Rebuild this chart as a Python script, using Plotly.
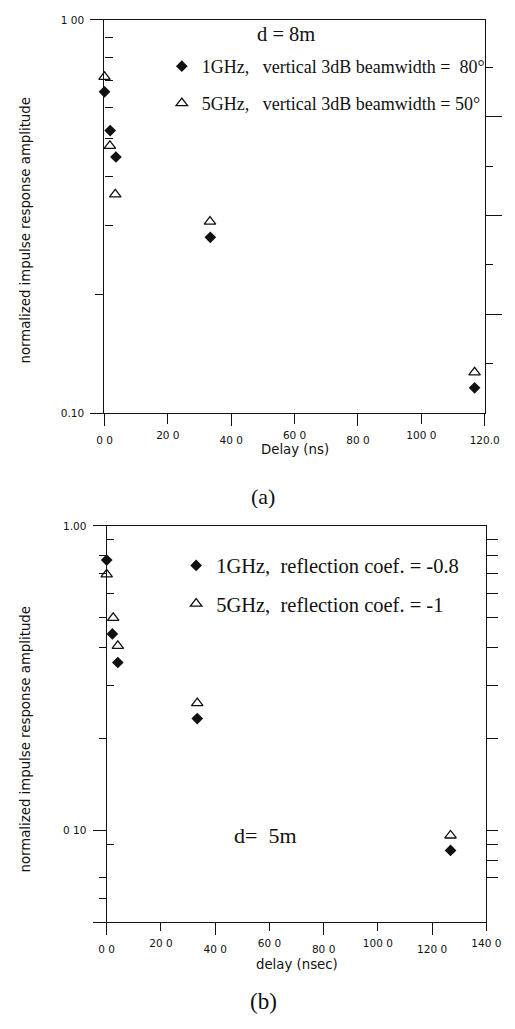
import math
import plotly.graph_objects as go

W, H = 515, 1029

# ---------------- data ----------------
# (a) d = 8 m
a_delay_1g = [0.0, 1.8, 3.6, 33.4, 116.8]
a_amp_1g = [0.656, 0.523, 0.448, 0.280, 0.116]
a_delay_5g = [0.0, 1.7, 3.4, 33.3, 116.8]
a_amp_5g = [0.716, 0.478, 0.360, 0.307, 0.127]

# (b) d = 5 m
b_delay_1g = [0.0, 2.1, 4.1, 33.4, 126.8]
b_amp_1g = [0.772, 0.442, 0.356, 0.233, 0.086]
b_delay_5g = [0.0, 2.4, 4.1, 33.4, 126.8]
b_amp_5g = [0.693, 0.499, 0.404, 0.262, 0.0963]

NB = "\u00a0"
a_names = ["1GHz," + NB * 3 + "vertical 3dB beamwidth =" + NB * 2 + "80°",
           "5GHz," + NB * 3 + "vertical 3dB beamwidth = 50°"]
b_names = ["1GHz," + NB * 2 + "reflection coef. = -0.8",
           "5GHz," + NB * 2 + "reflection coef. = -1"]

# tick labels
a_xticks_hi = [20, 60, 100]
a_xlabels_hi = ["20 0", "60 0", "100 0"]
a_xticks_lo = [0, 40, 80, 120]
a_xlabels_lo = ["0 0", "40 0", "80 0", "120.0"]
a_yticks = [1.0, 0.1]
a_ylabels = ["1 00", "0.10"]

b_xticks_hi = [20, 60, 100, 140]
b_xlabels_hi = ["20 0", "60 0", "100 0", "140 0"]
b_xticks_lo = [0, 40, 80, 120]
b_xlabels_lo = ["0 0", "40 0", "80 0", "120 0"]
b_yticks = [1.0, 0.1, 0.05]
b_ylabels = ["1.00", "0 10", ""]

# ---------------- helpers ----------------
def px(x):
    return x / W


def py(y):
    return 1 - y / H


SANS = "DejaVu Sans"
SERIF = "Liberation Serif"
INK = "#111111"

diamond = dict(symbol="diamond", size=9, color=INK)
triangle = dict(symbol="triangle-up-open", size=10, color=INK, line=dict(width=1.3, color=INK))

fig = go.Figure()
fig.add_trace(go.Scatter(x=a_delay_1g, y=a_amp_1g, mode="markers", marker=diamond,
                         name=a_names[0], legendgroup="a1", xaxis="x", yaxis="y",
                         cliponaxis=False, legend="legend"))
fig.add_trace(go.Scatter(x=a_delay_5g, y=a_amp_5g, mode="markers", marker=triangle,
                         name=a_names[1], legendgroup="a2", xaxis="x", yaxis="y",
                         cliponaxis=False, legend="legend"))
fig.add_trace(go.Scatter(x=b_delay_1g, y=b_amp_1g, mode="markers", marker=diamond,
                         name=b_names[0], legendgroup="b1", xaxis="x2", yaxis="y4",
                         cliponaxis=False, legend="legend2"))
fig.add_trace(go.Scatter(x=b_delay_5g, y=b_amp_5g, mode="markers", marker=triangle,
                         name=b_names[1], legendgroup="b2", xaxis="x2", yaxis="y4",
                         cliponaxis=False, legend="legend2"))

# empty traces registering the overlay axes
for xa, ya in [("x3", "y"), ("x", "y2"), ("x", "y3"), ("x4", "y4"), ("x2", "y5"), ("x2", "y6")]:
    fig.add_trace(go.Scatter(x=[None], y=[None], xaxis=xa, yaxis=ya, showlegend=False,
                             hoverinfo="skip"))

tickfont = dict(family=SANS, size=10.5, color=INK)
base = dict(showgrid=False, zeroline=False, linecolor=INK, linewidth=1.3,
            tickcolor=INK, tickwidth=1.2, tickfont=tickfont)

a_dom_x = [px(101), px(499)]
a_dom_y = [py(412), py(14)]
b_dom_x = [px(103.3), px(500.7)]
b_dom_y = [py(927), py(526)]
b_yr = [math.log10(0.05), 0]

fig.update_layout(
    width=W, height=H, margin=dict(l=0, r=0, t=0, b=0),
    paper_bgcolor="white", plot_bgcolor="white",
    # ---- (a) ----
    xaxis=dict(base, domain=a_dom_x, range=[0, 120], anchor="y", showline=True, mirror=True,
               tickmode="array", tickvals=a_xticks_hi, ticktext=a_xlabels_hi,
               ticks="outside", ticklen=10, ticklabelstandoff=2,
               minor=dict(tickmode="array", tickvals=a_xticks_lo, ticks="outside",
                          ticklen=12, tickcolor=INK, tickwidth=1.2)),
    xaxis3=dict(base, overlaying="x", anchor="y", side="bottom", range=[0, 120],
                showline=False, tickmode="array", tickvals=a_xticks_lo,
                ticktext=a_xlabels_lo, ticks="", ticklabelstandoff=19),
    yaxis=dict(base, domain=a_dom_y, type="log", range=[-1, 0], anchor="x",
               showline=True, mirror=True, tickmode="array", tickvals=a_yticks,
               ticktext=a_ylabels, ticks="outside", ticklen=13, ticklabelstandoff=4,
               minor=dict(tickmode="array", tickvals=[0.9, 0.8, 0.7, 0.6, 0.5, 0.4, 0.3],
                          ticks="inside", ticklen=8, tickcolor=INK, tickwidth=1.2)),
    yaxis2=dict(base, overlaying="y", anchor="x", side="right", range=[0, 398 / 50],
                showline=False, showticklabels=False, tickmode="array",
                tickvals=[2, 4, 6], ticks="outside", ticklen=16,
                minor=dict(tickmode="array", tickvals=[1, 3, 5, 7], ticks="outside",
                           ticklen=7, tickcolor=INK, tickwidth=1.2)),
    yaxis3=dict(base, overlaying="y", anchor="x", side="left", type="log", range=[-1, 0],
                showline=False, showticklabels=False, tickmode="array", tickvals=[0.2],
                ticks="outside", ticklen=8),
    # ---- (b) ----
    xaxis2=dict(base, domain=b_dom_x, range=[0, 140], anchor="y4", showline=True, mirror=True,
                tickmode="array", tickvals=b_xticks_hi, ticktext=b_xlabels_hi,
                ticks="outside", ticklen=8, ticklabelstandoff=3,
                minor=dict(tickmode="array", tickvals=b_xticks_lo, ticks="outside",
                           ticklen=12, tickcolor=INK, tickwidth=1.2)),
    xaxis4=dict(base, overlaying="x2", anchor="y4", side="bottom", range=[0, 140],
                showline=False, tickmode="array", tickvals=b_xticks_lo,
                ticktext=b_xlabels_lo, ticks="", ticklabelstandoff=19),
    yaxis4=dict(base, domain=b_dom_y, type="log", range=b_yr, anchor="x2",
                showline=True, mirror=True, tickmode="array", tickvals=b_yticks,
                ticktext=b_ylabels, ticks="outside", ticklen=13, ticklabelstandoff=4,
                minor=dict(tickmode="array", tickvals=[0.9, 0.6, 0.3, 0.09],
                           ticks="inside", ticklen=7, tickcolor=INK, tickwidth=1.2)),
    yaxis5=dict(base, overlaying="y4", anchor="x2", side="right", type="log", range=b_yr,
                showline=False, showticklabels=False, tickmode="array",
                tickvals=[0.9, 0.8, 0.7, 0.6, 0.5, 0.4, 0.3, 0.2, 0.1, 0.09, 0.08, 0.07],
                ticks="outside", ticklen=11),
    yaxis6=dict(base, overlaying="y4", anchor="x2", side="left", type="log", range=b_yr,
                showline=False, showticklabels=False, tickmode="array",
                tickvals=[0.8, 0.7, 0.5, 0.4, 0.2, 0.07, 0.06],
                ticks="outside", ticklen=7),
    legend=dict(x=px(161), y=py(42.5), xanchor="left", yanchor="top",
                bgcolor="rgba(0,0,0,0)", borderwidth=0, traceorder="grouped",
                tracegroupgap=10.5, font=dict(family=SERIF, size=18, color=INK)),
    legend2=dict(x=px(176), y=py(546), xanchor="left", yanchor="top",
                 bgcolor="rgba(0,0,0,0)", borderwidth=0, traceorder="grouped",
                 tracegroupgap=8.5, font=dict(family=SERIF, size=20.5, color=INK)),
    showlegend=True,
)

ann = [
    dict(text="normalized impulse response amplitude", x=px(18), y=py(227), textangle=-90,
         font=dict(family=SANS, size=13.3, color=INK)),
    dict(text="normalized impulse response amplitude", x=px(18), y=py(742), textangle=-90,
         font=dict(family=SANS, size=13.3, color=INK)),
    dict(text="Delay (ns)", x=px(300), y=py(449), font=dict(family=SANS, size=13.3, color=INK)),
    dict(text="delay (nsec)", x=px(302), y=py(970), font=dict(family=SANS, size=13.3, color=INK)),
    dict(text="d = 8m", x=px(291), y=py(28), font=dict(family=SERIF, size=20.5, color=INK)),
    dict(text="d=" + NB * 2 + "5m", x=px(270), y=py(839), font=dict(family=SERIF, size=22, color=INK)),
    dict(text="(a)", x=px(267), y=py(496), font=dict(family=SERIF, size=22, color=INK)),
    dict(text="(b)", x=px(267), y=py(1007), font=dict(family=SERIF, size=23, color=INK)),
]
for a in ann:
    a.update(xref="paper", yref="paper", xanchor="center", yanchor="middle", showarrow=False)
fig.update_layout(annotations=ann)

fig.write_html("out.html")
